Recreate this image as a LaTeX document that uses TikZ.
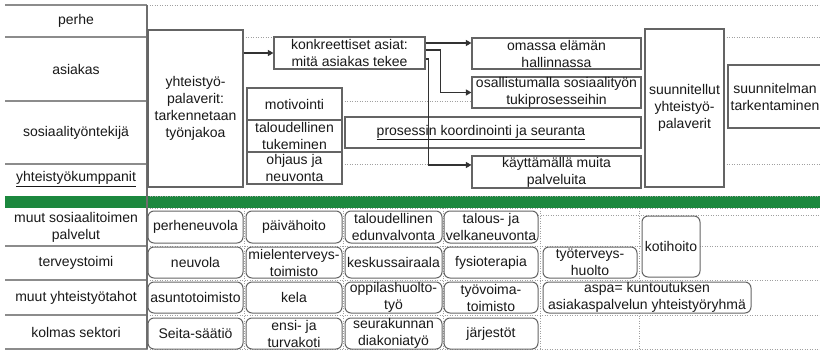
\documentclass[tikz,border=0pt]{standalone}
\usepackage{fontspec}
\setmainfont{Liberation Sans}
\usetikzlibrary{arrows.meta}
\definecolor{gband}{RGB}{28,136,62}
\definecolor{txt}{RGB}{25,25,25}
\definecolor{bord}{RGB}{100,100,100}
\definecolor{rulec}{RGB}{140,140,140}
\definecolor{vrule}{RGB}{110,110,110}
\definecolor{dotc}{RGB}{160,160,160}
\definecolor{connc}{RGB}{50,50,50}
\begin{document}
\begin{tikzpicture}[x=1pt,y=-1pt,
  font=\fontsize{14}{17}\selectfont, text=txt,
  sqbox/.style={draw=bord, line width=1.2pt, fill=white, inner sep=0pt, align=center},
  rbox/.style={draw=bord, line width=1pt, fill=white, rounded corners=6pt, inner sep=0pt, align=center},
  lab/.style={inner sep=0pt, align=center},
  rowline/.style={draw=rulec, line width=1.5pt},
  gridline/.style={draw=dotc, line width=0.8pt, dash pattern=on 1pt off 1.5pt},
  conn/.style={draw=connc, line width=1.2pt, -{Triangle[length=5.5pt,width=6pt]}}]
\useasboundingbox[fill=white] (0,0) rectangle (820,351);

% green band
\fill[gband] (5,196) rectangle (820,208);
\draw[gridline] (147,196) -- (820,196);
\draw[gridline] (147,208) -- (820,208);

% dotted grid, upper part
\draw[gridline] (147,5) -- (820,5);
\draw[gridline] (243,37) -- (274,37);
\draw[gridline] (724,37) -- (820,37);
\draw[gridline] (342,101) -- (472,101);
\draw[gridline] (342,164) -- (472,164);
\draw[gridline] (724,164) -- (820,164);

% dotted grid, lower part
\draw[gridline] (538,215) -- (820,215);
\foreach \yy in {246,280,315,349}{\draw[gridline] (147,\yy) -- (820,\yy);}
\foreach \xx in {244.5,343.5,443,540.5,639.5}{\draw[gridline] (\xx,208) -- (\xx,349);}

% left column rules
\foreach \yy in {5,37,101,164,246,280,315,349}{\draw[rowline] (5,\yy) -- (147,\yy);}
\draw[draw=vrule, line width=1.5pt] (147,5) -- (147,349);

% left column labels
\node[lab] (lperhe) at (76,21) {perhe};
\node[lab] (lasiakas) at (76,69) {asiakas};
\node[lab] (lsos) at (76,133) {sosiaalityöntekijä};
\node[lab] (lyht) at (76,179) {\underline{yhteistyökumppanit}};
\node[lab] (lmuut) at (76,227) {muut sosiaalitoimen\\palvelut};
\node[lab] (lterv) at (76,263) {terveystoimi};
\node[lab] (lmyht) at (76,297.5) {muut yhteistyötahot};
\node[lab] (lkolm) at (76,332) {kolmas sektori};

% upper boxes
\node[sqbox, minimum width=95, minimum height=157] (yp) at (195.5,108.5) {yhteistyö-\\palaverit:\\tarkennetaan\\työnjakoa};
\node[sqbox, minimum width=151, minimum height=32] (konk) at (349.5,53) {konkreettiset asiat:\\mitä asiakas tekee};
\node[sqbox, minimum width=95, minimum height=32] (motiv) at (294.5,104) {motivointi};
\node[sqbox, minimum width=95, minimum height=32] (talo) at (294.5,136) {taloudellinen\\tukeminen};
\node[sqbox, minimum width=95, minimum height=32] (ohj) at (294.5,168) {ohjaus ja\\neuvonta};
\node[sqbox, minimum width=296, minimum height=31] (pros) at (493,132.5) {};
\node[lab] (prost) at (481,132.5) {\underline{prosessin koordinointi ja seuranta}};
\node[sqbox, minimum width=169, minimum height=31] (omassa) at (556.5,53.5) {omassa elämän\\hallinnassa};
\node[sqbox, minimum width=169, minimum height=31] (osall) at (556.5,92.5) {osallistumalla sosiaalityön\\tukiprosesseihin};
\node[sqbox, minimum width=169, minimum height=32] (kaytt) at (556.5,172) {käyttämällä muita\\palveluita};
\node[sqbox, minimum width=79, minimum height=158] (suun) at (684.5,108) {suunnitellut\\yhteistyö-\\palaverit};
\node[sqbox, minimum width=94, minimum height=63] (tark) at (775,96.5) {suunnitelman\\tarkentaminen};

% connectors
\draw[conn] (yp.east |- konk.west) -- (konk.west);
\coordinate (k1) at ([yshift=10pt]konk.east);
\coordinate (k2) at ([yshift=3pt]konk.east);
\coordinate (k3) at ([yshift=-6pt]konk.east);
\draw[conn] (k1) -- (k1 -| omassa.west);
\draw[conn] (k2) -- ++(15,0) |- (osall.west);
\draw[conn] (k3) -- ++(3,0) |- ([yshift=7pt]kaytt.west);

% lower boxes
\node[rbox, minimum width=95, minimum height=32] (perhen) at (195.5,227) {perheneuvola};
\node[rbox, minimum width=96, minimum height=32] (paiva) at (294,227) {päivähoito};
\node[rbox, minimum width=97, minimum height=32] (edun) at (393.5,227) {taloudellinen\\edunvalvonta};
\node[rbox, minimum width=94, minimum height=32] (velka) at (491,227) {talous- ja\\velkaneuvonta};
\node[rbox, minimum width=58, minimum height=61] (koti) at (671,246.5) {kotihoito};

\node[rbox, minimum width=95, minimum height=31] (neuv) at (195.5,262.5) {neuvola};
\node[rbox, minimum width=96, minimum height=31] (mielen) at (294,262.5) {mielenterveys-\\toimisto};
\node[rbox, minimum width=97, minimum height=31] (kesk) at (393.5,262.5) {keskussairaala};
\node[rbox, minimum width=94, minimum height=31] (fysio) at (491,262.5) {fysioterapia};
\node[rbox, minimum width=94, minimum height=31] (tyoterv) at (590,262.5) {työterveys-\\huolto};

\node[rbox, minimum width=95, minimum height=31] (asunto) at (195.5,297.5) {asuntotoimisto};
\node[rbox, minimum width=96, minimum height=31] (kela) at (294,297.5) {kela};
\node[rbox, minimum width=97, minimum height=31] (oppilas) at (393.5,297.5) {oppilashuolto-\\työ};
\node[rbox, minimum width=94, minimum height=31] (tyovoima) at (491,297.5) {työvoima-\\toimisto};
\node[rbox, minimum width=208, minimum height=31] (aspa) at (647,297.5) {aspa= kuntoutuksen\\asiakaspalvelun yhteistyöryhmä};

\node[rbox, minimum width=95, minimum height=31] (seita) at (195.5,333.5) {Seita-säätiö};
\node[rbox, minimum width=96, minimum height=31] (ensi) at (294,333.5) {ensi- ja\\turvakoti};
\node[rbox, minimum width=97, minimum height=31] (seurak) at (393.5,333.5) {seurakunnan\\diakoniatyö};
\node[rbox, minimum width=94, minimum height=31] (jarj) at (491,333.5) {järjestöt};
\end{tikzpicture}
\end{document}
